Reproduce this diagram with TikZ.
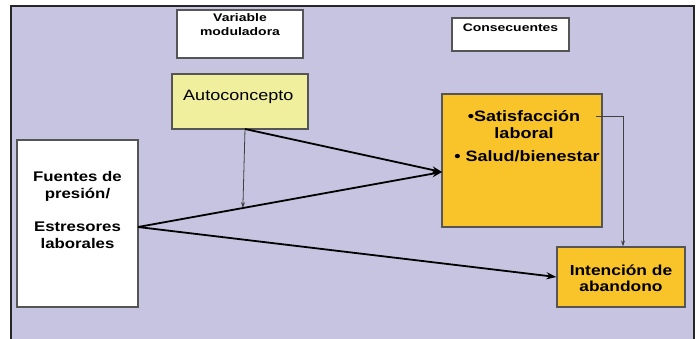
\documentclass[tikz,border=0pt]{standalone}
\usepackage{fontspec}
\setmainfont{Liberation Sans}
\usetikzlibrary{arrows.meta,calc}
\definecolor{bgl}{HTML}{C6C4E0}
\definecolor{lyel}{HTML}{EFEF9E}
\definecolor{oyel}{HTML}{F9C42A}
\definecolor{bord}{HTML}{555555}
\begin{document}
\begin{tikzpicture}[x=1pt,y=-1pt,
  box/.style={draw=bord,line width=1.2pt,minimum width=#1,inner sep=0pt},
  lbl/.style={font=\bfseries\fontsize{11}{14}\selectfont,xscale=1.27,transform shape,align=center,inner sep=0pt},
  big/.style={font=\bfseries\fontsize{14}{16.5}\selectfont,xscale=1.2,transform shape,align=center,inner sep=0pt},
  thick arr/.style={line width=1.8pt,-{Stealth[length=10pt,width=7pt]}},
  thin arr/.style={line width=0.8pt,draw=black!75,-{Stealth[length=6pt,width=4pt]}}]
\useasboundingbox (0,0) rectangle (699,338);
\fill[white] (0,0) rectangle (699,338);
\draw[fill=bgl,line width=1.5pt,draw=black!85] (11,345) -- (11,6) -- (694,6) -- (694,345);
% boxes
\node[box=126pt,minimum height=48pt,fill=white] (var) at (240,34) {};
\node[box=136pt,minimum height=55pt,fill=lyel] (auto) at (240,101.5) {};
\node[box=121pt,minimum height=167pt,fill=white] (fuentes) at (77.5,223.5) {};
\node[box=117pt,minimum height=33pt,fill=white] (cons) at (510.5,34.5) {};
\node[box=160pt,minimum height=133pt,fill=oyel] (sat) at (522,160.5) {};
\node[box=128pt,minimum height=60pt,fill=oyel] (int) at (621,277) {};
% texts
\node[lbl] (vartext) at (240,25) {Variable\\moduladora};
\node[lbl,anchor=center] (constext) at (510.5,28) {Consecuentes};
\node[font=\fontsize{15}{17}\selectfont,xscale=1.2,transform shape,inner sep=0pt,anchor=west] (autotext) at (183,97) {Autoconcepto};
\node[big] (ftext1) at (77.5,186.5) {Fuentes de\\presión/};
\node[big] (ftext2) at (77.5,235) {Estresores\\laborales};
\node[big,font=\bfseries\fontsize{15}{16.5}\selectfont] (sattext1) at (524,124.5) {•Satisfacción\\laboral};
\node[big,font=\bfseries\fontsize{15}{15}\selectfont] (sattext2) at (527,156) {• Salud/bienestar};
\node[big,font=\bfseries\fontsize{14.5}{16}\selectfont] (inttext) at (621,278) {Intención de\\abandono};
% connectors
\coordinate (aS) at (245,129);
\coordinate (sIn) at (442,172);
\coordinate (fR) at (138,227);
\coordinate (sR) at (596,116);
\draw[thick arr] (aS) -- (sIn);
\draw[thick arr] (fR) -- (sIn);
\draw[thick arr] (fR) -- (int.west);
\draw[thin arr] (aS) -- ($(fR)!0.345!(sIn)$);
\draw[thin arr] (sR) -| ($(int.north)+(2,0)$);
\end{tikzpicture}
\end{document}
